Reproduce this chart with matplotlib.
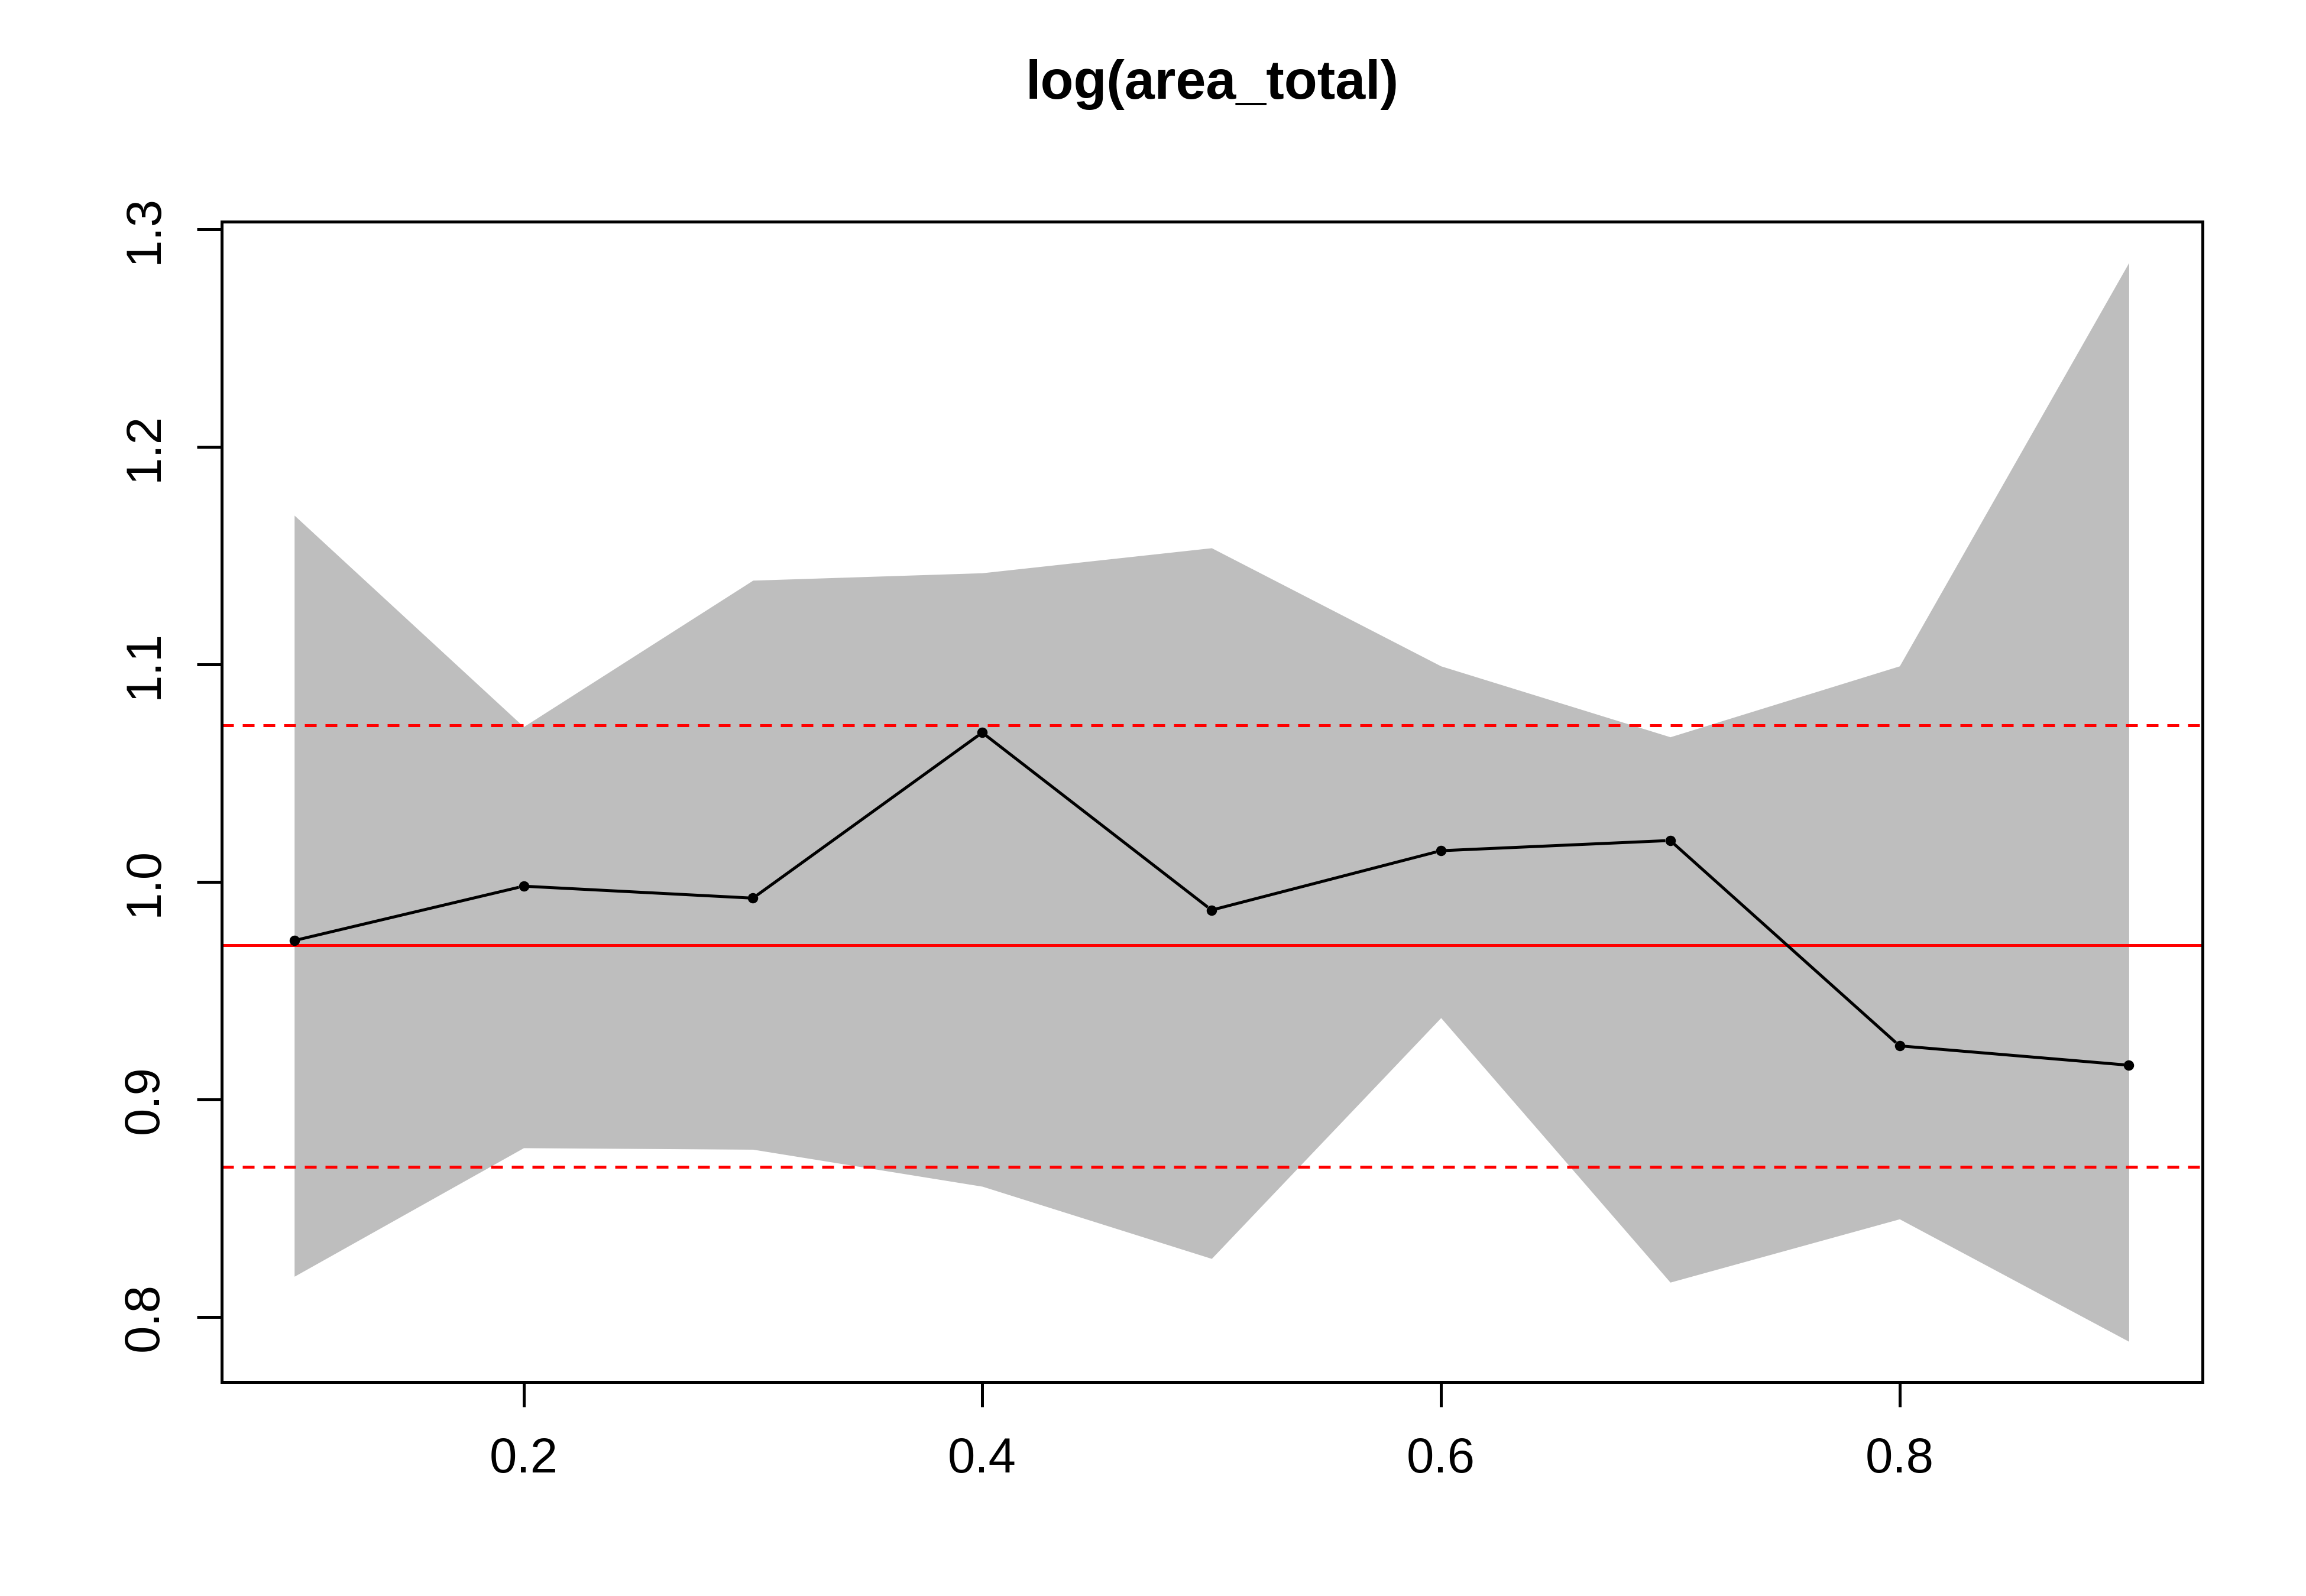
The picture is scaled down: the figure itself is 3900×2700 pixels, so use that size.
import matplotlib
matplotlib.use("Agg")
import matplotlib.pyplot as plt
import numpy as np

x = [0.1, 0.2, 0.3, 0.4, 0.5, 0.6, 0.7, 0.8, 0.9]
est = [0.973, 0.998, 0.9925, 1.0686, 0.987, 1.0143, 1.019, 0.9246, 0.9157]
upper = [1.1685, 1.0713, 1.1386, 1.142, 1.1535, 1.0992, 1.0666, 1.0992, 1.2846]
lower = [0.8186, 0.8777, 0.877, 0.860, 0.8268, 0.9375, 0.8159, 0.845, 0.7887]
hline_mid = 0.9708
hline_hi = 1.072
hline_lo = 0.8689

plt.rcParams['font.family'] = ['Liberation Sans', 'DejaVu Sans']
fig = plt.figure(figsize=(13, 9), dpi=300)
ax = fig.add_axes([0.0962, 0.134, 0.955 - 0.0962, 0.861 - 0.134])
ax.set_xlim(0.0684, 0.932)
ax.set_ylim(0.770, 1.3034)

ax.fill_between(x, lower, upper, color='#BEBEBE', linewidth=0)
ax.axhline(hline_mid, color='red', lw=1.2)
ax.axhline(hline_hi, color='red', lw=1.2, ls=(0, (4, 3)))
ax.axhline(hline_lo, color='red', lw=1.2, ls=(0, (4, 3)))

# R type="b": segments with gaps around the points
fig.canvas.draw()
pts = ax.transData.transform(np.column_stack([x, est]))
gap = 0.09 * 300 * 0.5 * 0.8
inv = ax.transData.inverted()
for p0, p1 in zip(pts[:-1], pts[1:]):
    d = p1 - p0
    L = np.hypot(*d)
    if L > 2 * gap:
        u = d / L
        a = inv.transform(p0 + u * gap)
        b = inv.transform(p1 - u * gap)
        ax.plot([a[0], b[0]], [a[1], b[1]], color='black', lw=1.2)
ax.plot(x, est, 'o', color='black', ms=3.2)

ax.set_xticks([0.2, 0.4, 0.6, 0.8])
ax.set_xticklabels(['0.2', '0.4', '0.6', '0.8'])
ax.set_yticks([0.8, 0.9, 1.0, 1.1, 1.2, 1.3])
ax.set_yticklabels(['0.8', '0.9', '1.0', '1.1', '1.2', '1.3'], rotation=90, va='center')
ax.tick_params(labelsize=20, length=10, width=1.2, pad=12)
for s in ax.spines.values():
    s.set_linewidth(1.2)
ax.set_title('log(area_total)', fontsize=22, fontweight='bold', pad=50)
fig.savefig('out.png', dpi=300)
